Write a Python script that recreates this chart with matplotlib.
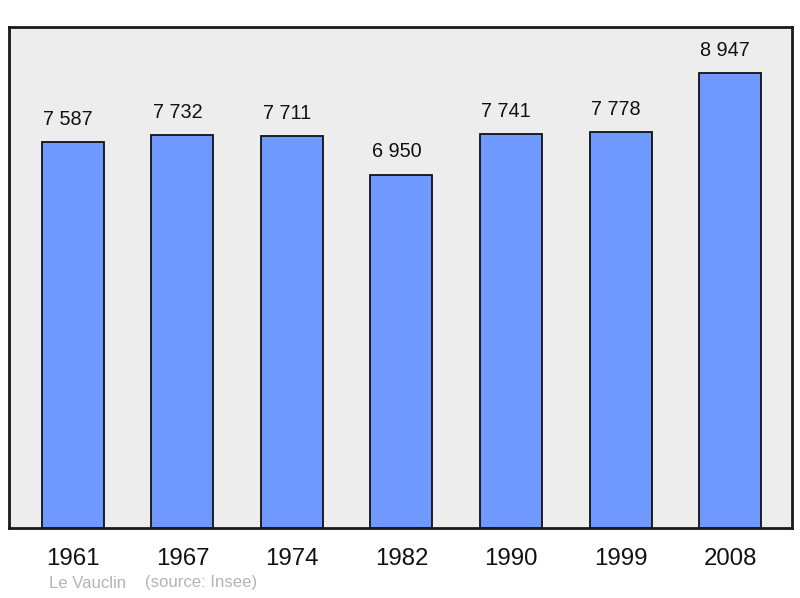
import matplotlib
matplotlib.use("Agg")
import matplotlib.pyplot as plt

# Population data (Insee)
years = ["1961", "1967", "1974", "1982", "1990", "1999", "2008"]
population = [7587, 7732, 7711, 6950, 7741, 7778, 8947]
labels = ["7 587", "7 732", "7 711", "6 950", "7 741", "7 778", "8 947"]

plt.rcParams['font.family'] = ['Liberation Sans', 'DejaVu Sans']

fig = plt.figure(figsize=(8, 5.98), dpi=100)
ax = fig.add_axes([0.011, 0.117, 0.979, 0.838])
ax.set_facecolor('#ededed')

x = range(len(years))
ax.bar(x, population, width=0.566, color='#7099ff', edgecolor='#111111', linewidth=1.3, zorder=2)

for i, v in enumerate(population):
    ax.annotate(labels[i], (i, v), xytext=(-3.5, 9.5), textcoords='offset points',
                ha='center', va='bottom', fontsize=14.3, color='#111111')

ax.set_xlim(-0.585, 6.565)
ax.set_ylim(0, 9852)
ax.set_xticks(list(x))
ax.set_xticklabels(years, fontsize=17.3, color='#111111')
ax.set_yticks([])
ax.tick_params(axis='x', length=0, pad=14.5)
for s in ax.spines.values():
    s.set_linewidth(2)
    s.set_color('#1a1a1a')

fig.text(49 / 800, 1 - 583 / 598, "Le Vauclin", fontsize=12.1,
         color='#b4b4b4', ha='left', va='center')
fig.text(145 / 800, 1 - 583 / 598, "(source: Insee)", fontsize=12.1,
         color='#b4b4b4', ha='left', va='center')

fig.savefig("out.png", dpi=100)
